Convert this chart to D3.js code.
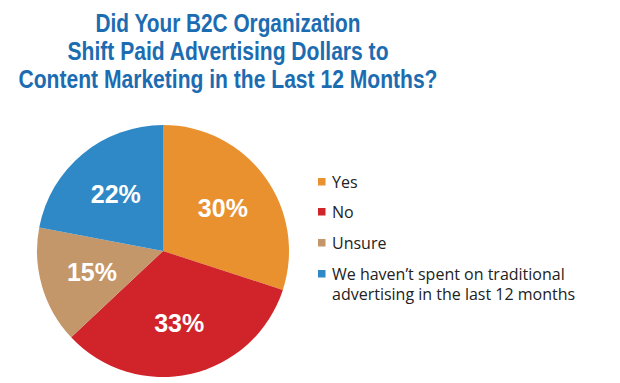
<!DOCTYPE html>
<html><head><meta charset="utf-8">
<script src="https://cdn.jsdelivr.net/npm/d3@7/dist/d3.min.js"></script>
<style>
html,body{margin:0;padding:0;background:#fff;}
svg{display:block;}
</style></head>
<body>
<svg id="chart" width="620" height="383"></svg>
<script>
const titleLines = ["Did Your B2C Organization", "Shift Paid Advertising Dollars to", "Content Marketing in the Last 12 Months?"];
const categories = ["Yes", "No", "Unsure", "We haven\u2019t spent on traditional|advertising in the last 12 months"];
const values = [30, 33, 15, 22];
const colors = ["#E9912F", "#D0232A", "#C4976A", "#2E89C6"];

const svg = d3.select("#chart");

// Title
const titleWidths = [265, 321, 419];
svg.append("g").selectAll("text").data(titleLines).join("text")
  .attr("x", 228).attr("y", (d, i) => 32.3 + i * 28)
  .attr("text-anchor", "middle")
  .attr("font-family", "'Liberation Sans', Arial, sans-serif")
  .attr("font-weight", 700)
  .attr("font-size", 25)
  .attr("fill", "#1C6CB2")
  .attr("textLength", (d, i) => titleWidths[i])
  .attr("lengthAdjust", "spacingAndGlyphs")
  .text(d => d);

// Pie
const cx = 163, cy = 251, r = 126;
const pie = d3.pie().sort(null).value(d => d)(values);
const arc = d3.arc().innerRadius(0).outerRadius(r);
const g = svg.append("g").attr("transform", `translate(${cx},${cy})`);
g.selectAll("path").data(pie).join("path")
  .attr("d", arc)
  .attr("fill", (d, i) => colors[i]);

const lArc = d3.arc().innerRadius(74).outerRadius(74);
g.selectAll("text").data(pie).join("text")
  .attr("transform", d => `translate(${lArc.centroid(d)})`)
  .attr("text-anchor", "middle")
  .attr("dy", "0.36em")
  .attr("font-family", "'Liberation Sans', Arial, sans-serif")
  .attr("font-weight", 700)
  .attr("font-size", 25)
  .attr("fill", "#fff")
  .text(d => d.value + "%");

// Legend
const legendY = [188, 218, 249, 280];
const lg = svg.append("g");
categories.forEach((c, i) => {
  lg.append("rect").attr("x", 318).attr("y", legendY[i] - 10).attr("width", 7.5).attr("height", 7.5).attr("fill", colors[i]);
  const t = lg.append("text").attr("x", 332).attr("y", legendY[i])
    .attr("font-family", "'Open Sans', 'Noto Sans', sans-serif")
    .attr("font-size", 16).attr("fill", "#222");
  c.split("|").forEach((line, j) => {
    t.append("tspan").attr("x", 332).attr("dy", j === 0 ? 0 : 20).text(line);
  });
});
</script>
</body></html>
